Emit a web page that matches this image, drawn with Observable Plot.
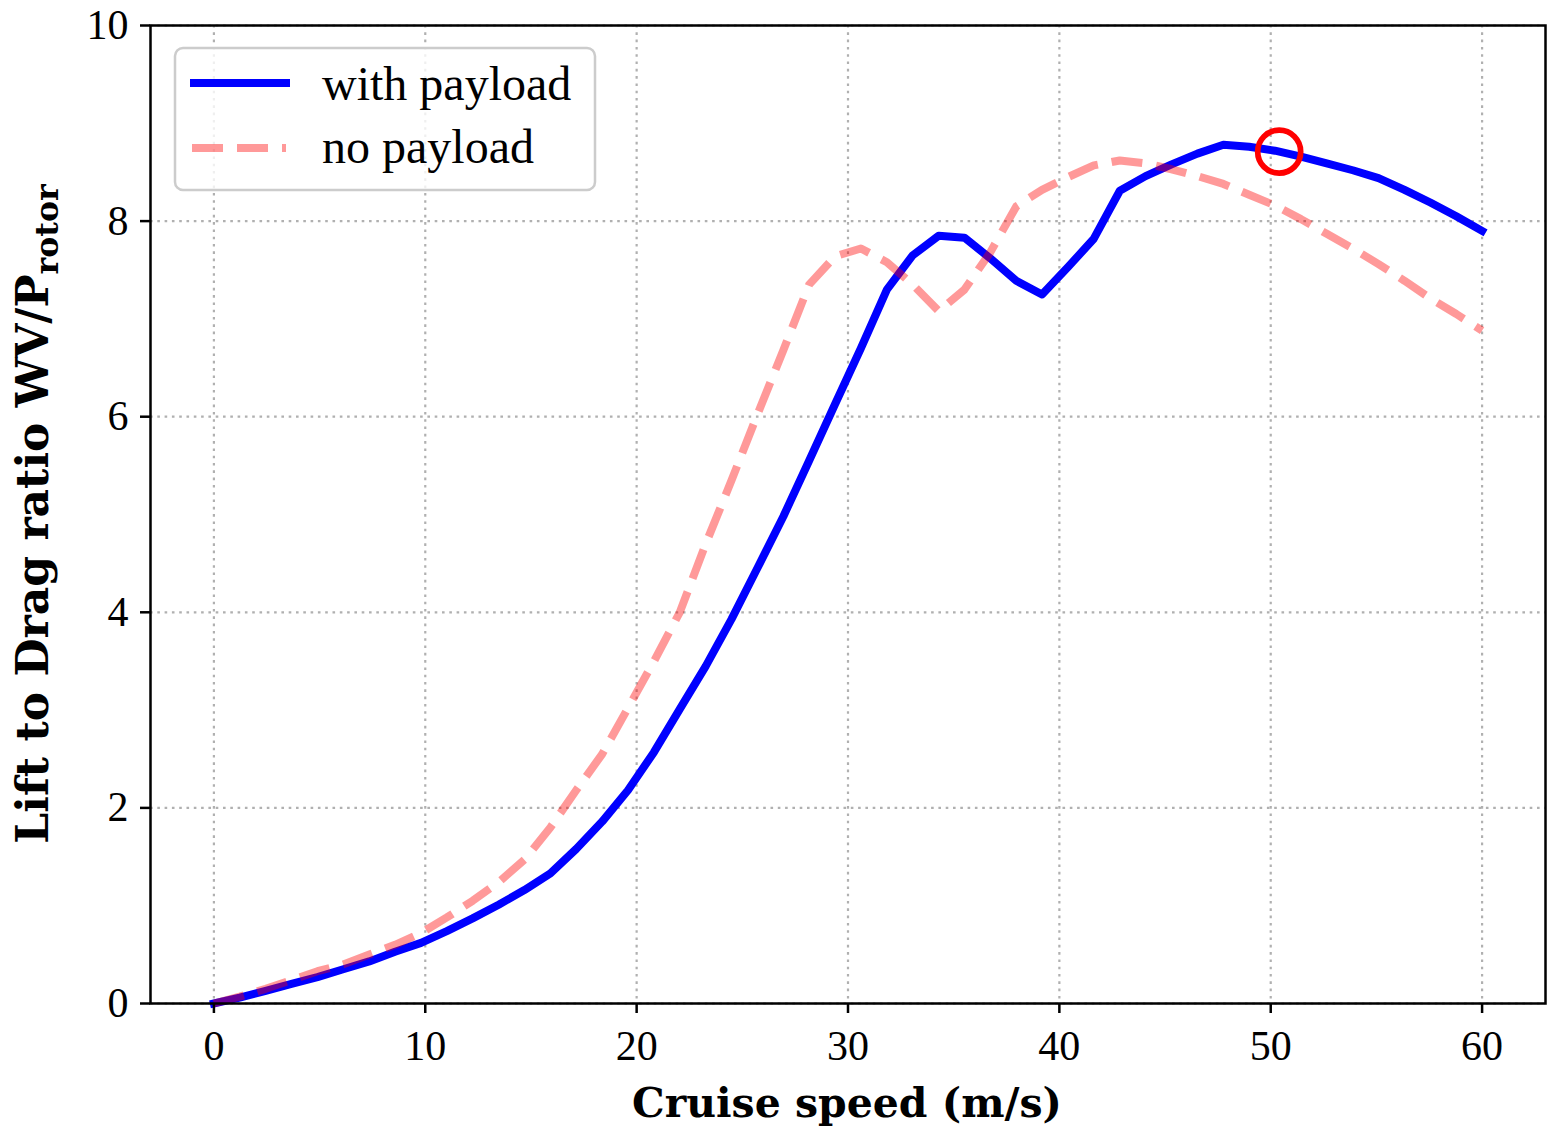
<!DOCTYPE html>
<html>
<head>
<meta charset="utf-8">
<script src="https://cdn.jsdelivr.net/npm/d3@7"></script>
<script src="https://cdn.jsdelivr.net/npm/@observablehq/plot@0.6"></script>
<style>
  html, body { margin: 0; padding: 0; background: #ffffff; }
  #chart svg { display: block; }
</style>
</head>
<body>
<div id="chart"></div>
<script>
// Cruise speeds sampled at 50 evenly spaced points from 0 to 60 m/s
const speeds = [
  0.00, 1.22, 2.45, 3.67, 4.90, 6.12, 7.35, 8.57, 9.80, 11.02,
  12.24, 13.47, 14.69, 15.92, 17.14, 18.37, 19.59, 20.82, 22.04, 23.27,
  24.49, 25.71, 26.94, 28.16, 29.39, 30.61, 31.84, 33.06, 34.29, 35.51,
  36.73, 37.96, 39.18, 40.41, 41.63, 42.86, 44.08, 45.31, 46.53, 47.76,
  48.98, 50.20, 51.43, 52.65, 53.88, 55.10, 56.33, 57.55, 58.78, 60.00
];

// Lift-to-drag ratio W V / P_rotor, with payload
const withPayloadRatio = [
  0.00, 0.06, 0.13, 0.20, 0.27, 0.35, 0.43, 0.53, 0.62, 0.74,
  0.87, 1.01, 1.16, 1.33, 1.58, 1.86, 2.18, 2.57, 3.01, 3.45,
  3.93, 4.45, 4.98, 5.55, 6.13, 6.70, 7.30, 7.65, 7.85, 7.83,
  7.62, 7.39, 7.25, 7.53, 7.82, 8.31, 8.46, 8.58, 8.69, 8.78,
  8.76, 8.72, 8.66, 8.59, 8.52, 8.44, 8.32, 8.19, 8.05, 7.90
];

// Lift-to-drag ratio W V / P_rotor, without payload
const noPayloadRatio = [
  0.00, 0.07, 0.15, 0.24, 0.33, 0.40, 0.50, 0.60, 0.72, 0.88,
  1.05, 1.24, 1.47, 1.80, 2.18, 2.55, 3.02, 3.50, 4.00, 4.70,
  5.35, 6.02, 6.68, 7.35, 7.64, 7.72, 7.58, 7.35, 7.08, 7.30,
  7.68, 8.15, 8.32, 8.45, 8.57, 8.62, 8.59, 8.53, 8.46, 8.38,
  8.27, 8.16, 8.02, 7.87, 7.72, 7.56, 7.39, 7.21, 7.05, 6.88
];

// Highlighted operating point
const highlightSpeed = [50.4];
const highlightRatio = [8.71];

const xTicks = [0, 10, 20, 30, 40, 50, 60];
const yTicks = [0, 2, 4, 6, 8, 10];

const seriesNames = ["with payload", "no payload"];

const withPayload = speeds.map((s, i) => ({speed: s, ratio: withPayloadRatio[i]}));
const noPayload = speeds.map((s, i) => ({speed: s, ratio: noPayloadRatio[i]}));
const highlight = highlightSpeed.map((s, i) => ({speed: s, ratio: highlightRatio[i]}));

const serif = "'Liberation Serif', 'DejaVu Serif', serif";
const boldSerif = "'DejaVu Serif', 'Liberation Serif', serif";
const gridStyle = {stroke: "#b0b0b0", strokeOpacity: 1, strokeWidth: 2.2, strokeDasharray: "2.6,4.7"};
const lineWidth = 8;
const dashPattern = "31,14";

const chart = Plot.plot({
  width: 1557,
  height: 1135,
  marginLeft: 150,
  marginRight: 12,
  marginTop: 25,
  marginBottom: 132,
  style: {fontFamily: serif, fontSize: "42px", color: "#000", background: "#fff"},
  x: {domain: [-3, 63]},
  y: {domain: [0, 10]},
  marks: [
    Plot.gridX(xTicks, gridStyle),
    Plot.gridY(yTicks, gridStyle),
    Plot.line(withPayload, {
      x: "speed", y: "ratio", stroke: "#0000ff", strokeWidth: lineWidth,
      strokeLinecap: "square", strokeLinejoin: "round"
    }),
    Plot.line(noPayload, {
      x: "speed", y: "ratio", stroke: "#ff0000", strokeOpacity: 0.4, strokeWidth: lineWidth,
      strokeDasharray: dashPattern, strokeLinecap: "butt", strokeLinejoin: "round"
    }),
    Plot.dot(highlight, {
      x: "speed", y: "ratio", r: 21.5, fill: "none", stroke: "#ff0000", strokeWidth: 5.7
    }),
    Plot.axisX(xTicks, {
      tickSize: 10, tickPadding: 17, strokeWidth: 2.5, label: null,
      fontSize: 42, tickFormat: d => String(d)
    }),
    Plot.axisY(yTicks, {
      tickSize: 10, tickPadding: 12, strokeWidth: 2.5, label: null,
      fontSize: 42, tickFormat: d => String(d)
    }),
    Plot.frame({stroke: "#000", strokeWidth: 2.5})
  ]
});

document.getElementById("chart").appendChild(chart);

const svg = d3.select(chart);

// Scale a text element's font size so it spans the requested width
function fitWidth(node, target, baseSize, maxSize) {
  const w = node.getComputedTextLength();
  if (w > 0) d3.select(node).attr("font-size", Math.min(maxSize || Infinity, baseSize * target / w));
}

// Axis titles
const xTitle = svg.append("text")
  .attr("x", 847)
  .attr("y", 1117)
  .attr("text-anchor", "middle")
  .attr("font-family", boldSerif)
  .attr("font-weight", "bold")
  .attr("font-size", 40)
  .attr("fill", "#000")
  .text("Cruise speed (m/s)");
fitWidth(xTitle.node(), 430, 40, 44);

const yTitle = svg.append("text")
  .attr("transform", "translate(48,514) rotate(-90)")
  .attr("text-anchor", "middle")
  .attr("font-family", boldSerif)
  .attr("font-weight", "bold")
  .attr("font-size", 40)
  .attr("fill", "#000");
yTitle.append("tspan").text("Lift to Drag ratio WV/P");
yTitle.append("tspan").attr("dy", "0.3em").attr("font-size", "0.72em").text("rotor");
fitWidth(yTitle.node(), 680, 40, 44);

// Legend
const legend = svg.append("g").attr("text-anchor", "start");
legend.append("rect")
  .attr("x", 175).attr("y", 48).attr("width", 420).attr("height", 142)
  .attr("rx", 8).attr("ry", 8)
  .attr("fill", "#fff").attr("fill-opacity", 0.8)
  .attr("stroke", "#cccccc").attr("stroke-width", 2.5);
legend.append("line")
  .attr("x1", 190).attr("x2", 290).attr("y1", 83).attr("y2", 83)
  .attr("stroke", "#0000ff").attr("stroke-width", lineWidth).attr("stroke-linecap", "butt");
legend.append("line")
  .attr("x1", 192).attr("x2", 286).attr("y1", 148).attr("y2", 148)
  .attr("stroke", "#ff0000").attr("stroke-opacity", 0.4)
  .attr("stroke-width", lineWidth).attr("stroke-dasharray", dashPattern).attr("stroke-linecap", "butt");
const l1 = legend.append("text")
  .attr("x", 322).attr("y", 100)
  .attr("text-anchor", "start")
  .attr("font-family", serif).attr("font-size", 42).attr("fill", "#000")
  .text(seriesNames[0]);
fitWidth(l1.node(), 253, 42, 48);
const l2 = legend.append("text")
  .attr("x", 322).attr("y", 163)
  .attr("text-anchor", "start")
  .attr("font-family", serif).attr("fill", "#000")
  .attr("font-size", l1.attr("font-size"))
  .text(seriesNames[1]);
</script>
</body>
</html>
